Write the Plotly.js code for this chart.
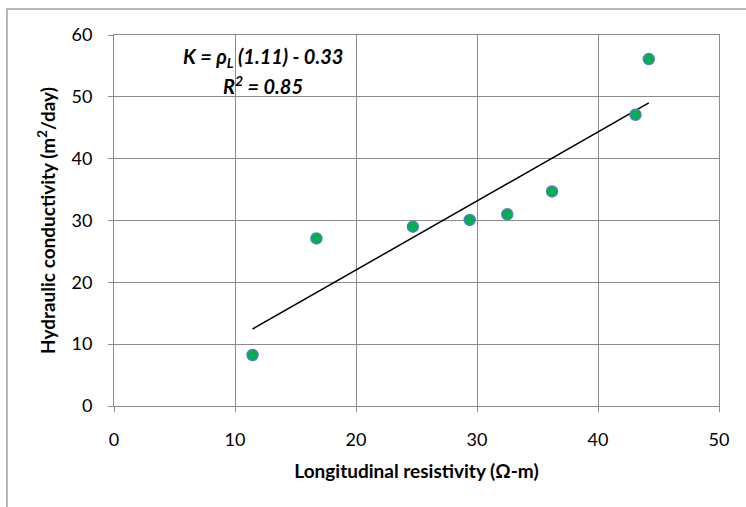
<!DOCTYPE html>
<html>
<head>
<meta charset="utf-8">
<script src="https://cdn.plot.ly/plotly-3.0.1.min.js"></script>
<style>html,body{margin:0;padding:0;background:#fff;}#chart{width:746px;height:507px;}</style>
</head>
<body>
<div id="chart"></div>
<script>
// Data
const resistivity = [11.45, 16.73, 24.7, 29.4, 32.5, 36.2, 43.1, 44.2];
const conductivity = [8.25, 27.1, 29.0, 30.1, 31.0, 34.7, 47.1, 56.1];
const xTicks = [0, 10, 20, 30, 40, 50];
const yTicks = [0, 10, 20, 30, 40, 50, 60];
const eqLine1 = "<b><i>K = ρ<sub>L</sub> (1.11) - 0.33</i></b>";
const eqLine2 = "<b><i>R<sup>2</sup> = 0.85</i></b>";

// Linear least-squares trendline from the data
const n = resistivity.length;
const mx = resistivity.reduce((a, b) => a + b, 0) / n;
const my = conductivity.reduce((a, b) => a + b, 0) / n;
let sxy = 0, sxx = 0;
for (let i = 0; i < n; i++) {
  sxy += (resistivity[i] - mx) * (conductivity[i] - my);
  sxx += (resistivity[i] - mx) ** 2;
}
const slope = sxy / sxx;
const intercept = my - slope * mx;
const xMin = Math.min(...resistivity), xMax = Math.max(...resistivity);
const trendX = [xMin, xMax];
const trendY = trendX.map(x => slope * x + intercept);

const font = "Lato, 'Open Sans', sans-serif";
const traces = [
  {
    x: trendX, y: trendY, mode: 'lines', type: 'scatter',
    line: {color: '#000000', width: 1.5}, hoverinfo: 'skip', showlegend: false
  },
  {
    x: resistivity, y: conductivity, mode: 'markers', type: 'scatter',
    marker: {size: 11, color: '#00B050', line: {color: '#4F81BD', width: 1.5}},
    showlegend: false
  }
];

const layout = {
  width: 746, height: 507,
  margin: {l: 114, r: 27, t: 35, b: 101},
  paper_bgcolor: '#ffffff', plot_bgcolor: '#ffffff',
  font: {family: font, size: 15, color: '#000000'},
  showlegend: false,
  xaxis: {
    range: [0, 50], tickvals: xTicks, ticktext: xTicks.map(String),
    showgrid: true, gridcolor: '#8c8c8c', gridwidth: 1,
    showline: true, linecolor: '#8c8c8c', linewidth: 1, mirror: true,
    ticks: 'outside', ticklen: 5, tickcolor: '#8c8c8c',
    ticklabelstandoff: 12, zeroline: false,
    tickfont: {family: font, size: 18, color: '#000'},
    title: {text: '<b>Longitudinal resistivity (Ω-m)</b>', font: {family: font, size: 19, color: '#000'}, standoff: 16}
  },
  yaxis: {
    range: [0, 60], tickvals: yTicks, ticktext: yTicks.map(String),
    showgrid: true, gridcolor: '#8c8c8c', gridwidth: 1,
    showline: true, linecolor: '#8c8c8c', linewidth: 1, mirror: true,
    ticks: 'outside', ticklen: 5, tickcolor: '#8c8c8c',
    ticklabelstandoff: 12, zeroline: false,
    tickfont: {family: font, size: 18, color: '#000'},
    title: {text: '<b>Hydraulic conductivity (m<sup>2</sup>/day)</b>', font: {family: font, size: 19, color: '#000'}, standoff: 10}
  },
  annotations: [
    {x: 12.3, y: 56.3, xref: 'x', yref: 'y', text: eqLine1, showarrow: false, xanchor: 'center', yanchor: 'middle',
     font: {family: font, size: 20, color: '#000'}},
    {x: 12.3, y: 51.9, xref: 'x', yref: 'y', text: eqLine2, showarrow: false, xanchor: 'center', yanchor: 'middle',
     font: {family: font, size: 20, color: '#000'}}
  ],
  shapes: [
    {type: 'rect', xref: 'paper', yref: 'paper', x0: -0.177, x1: 1.06, y0: -0.3, y1: 1.07,
     line: {color: '#a0a0a0', width: 1.5}, fillcolor: 'rgba(0,0,0,0)', layer: 'below'}
  ]
};

Plotly.newPlot('chart', traces, layout, {displayModeBar: false, staticPlot: true});
</script>
</body>
</html>
